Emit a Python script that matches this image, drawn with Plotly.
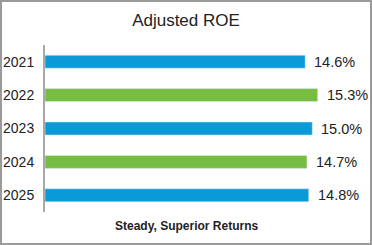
import plotly.graph_objects as go

years = ["2021", "2022", "2023", "2024", "2025"]
roe = [14.6, 15.3, 15.0, 14.7, 14.8]
labels = ["14.6%", "15.3%", "15.0%", "14.7%", "14.8%"]
title_text = "Adjusted ROE"
caption = "Steady, Superior Returns"

BLUE = "#0a9ad8"
GREEN = "#77bd44"
colors = [BLUE if i % 2 == 0 else GREEN for i in range(len(years))]
pos = list(range(len(years)))

W, H = 372, 245
ML, MR, MT, MB = 45, 8, 45, 33
pw, ph = W - ML - MR, H - MT - MB

fig = go.Figure(go.Bar(
    x=roe, y=pos, orientation="h",
    marker=dict(color=colors),
    width=0.39,
    hoverinfo="skip",
))

for p, v, lab in zip(pos, roe, labels):
    fig.add_annotation(x=v, y=p, text=lab, xanchor="left", yanchor="middle",
                       xshift=7, showarrow=False,
                       font=dict(family="Liberation Sans, Arial", size=14.5, color="#222"))

fig.add_annotation(xref="paper", yref="paper", x=(W / 2 - ML) / pw,
                   y=-(226 - MT - ph) / ph, text="<b>" + caption + "</b>",
                   xanchor="center", yanchor="middle", showarrow=False,
                   font=dict(family="Liberation Sans, Arial", size=12, color="#222"))

# border around the whole figure
fig.add_shape(type="rect", xref="paper", yref="paper",
              x0=-(ML - 1) / pw, x1=1 + (MR - 1) / pw,
              y0=-(MB - 1) / ph, y1=1 + (MT - 1) / ph,
              line=dict(color="#9a9a9a", width=2))

fig.update_layout(
    width=W, height=H,
    margin=dict(l=ML, r=MR, t=MT, b=MB, autoexpand=False),
    paper_bgcolor="white", plot_bgcolor="white",
    showlegend=False,
    title=dict(text=title_text, x=0.5, xref="container", xanchor="center",
               y=1 - 20 / H, yref="container", yanchor="middle",
               font=dict(family="Liberation Sans, Arial", size=17, color="#222")),
    xaxis=dict(range=[0, 17.9], showticklabels=False, showgrid=False,
               zeroline=False, showline=False, ticks=""),
    yaxis=dict(range=[len(years) - 0.5, -0.5], tickmode="array",
               tickvals=pos, ticktext=years,
               showline=True, linecolor="#a8a8a8", linewidth=2,
               showgrid=False, zeroline=False,
               ticks="outside", ticklen=6, tickcolor="rgba(0,0,0,0)",
               tickfont=dict(family="Liberation Sans, Arial", size=14, color="#222")),
)

fig.write_html("out.html")
